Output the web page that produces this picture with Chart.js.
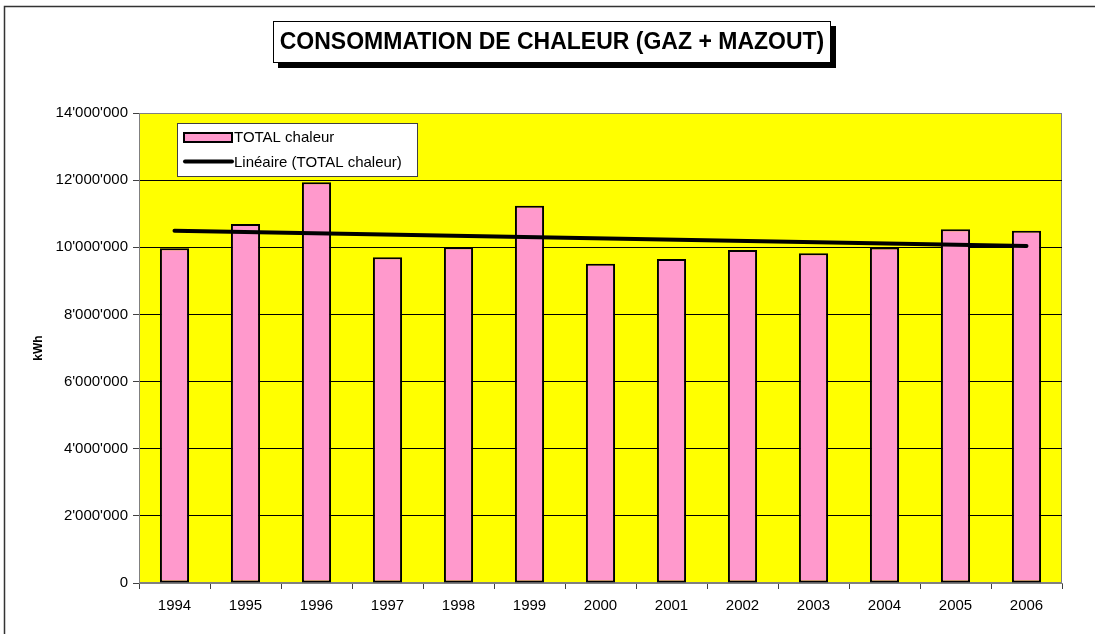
<!DOCTYPE html>
<html>
<head>
<meta charset="utf-8">
<title>Consommation de chaleur</title>
<script src="https://cdn.jsdelivr.net/npm/chart.js@4/dist/chart.umd.min.js"></script>
<style>
  html, body { margin: 0; padding: 0; background: #fff; }
</style>
</head>
<body>
<canvas id="heatChart" width="1095" height="634"></canvas>
<script>
// data
const chartTitle = 'CONSOMMATION DE CHALEUR (GAZ + MAZOUT)';
const years = ['1994', '1995', '1996', '1997', '1998', '1999', '2000', '2001', '2002', '2003', '2004', '2005', '2006'];
const totalChaleur = [9970000, 10690000, 11940000, 9700000, 10000000, 11240000, 9510000, 9650000, 9920000, 9820000, 9990000, 10540000, 10490000];
// Excel linear trend: only the two ends, the line spans the gaps
const trendChaleur = [10490000, null, null, null, null, null, null, null, null, null, null, null, 10040000];
const yTickLabels = ["0", "2'000'000", "4'000'000", "6'000'000", "8'000'000", "10'000'000", "12'000'000", "14'000'000"];

const FONT = '"Liberation Sans", Arial, sans-serif';
Chart.defaults.font.family = FONT;
Chart.defaults.color = '#000';

// yellow plot area + outer frame
const backdrop = {
  id: 'backdrop',
  beforeDraw(chart) {
    const { ctx, chartArea: a } = chart;
    ctx.save();
    ctx.strokeStyle = '#333';
    ctx.lineWidth = 1.5;
    ctx.beginPath();
    ctx.moveTo(4.5, chart.height);
    ctx.lineTo(4.5, 6.5);
    ctx.lineTo(chart.width, 6.5);
    ctx.stroke();
    ctx.fillStyle = '#FFFF00';
    ctx.fillRect(a.left, a.top, a.right - a.left, a.bottom - a.top);
    ctx.strokeStyle = '#808080';
    ctx.lineWidth = 1;
    ctx.strokeRect(a.left + 0.5, a.top + 0.5, a.right - a.left - 1, a.bottom - a.top - 1);
    ctx.restore();
  }
};

// boxed title with drop shadow
const titleBox = {
  id: 'titleBox',
  afterDraw(chart) {
    const ctx = chart.ctx;
    const x = 273, y = 21, w = 558, h = 42;
    ctx.save();
    ctx.fillStyle = '#000';
    ctx.fillRect(x + 5, y + 5, w, h);
    ctx.fillStyle = '#fff';
    ctx.fillRect(x, y, w, h);
    ctx.strokeStyle = '#000';
    ctx.lineWidth = 1;
    ctx.strokeRect(x + 0.5, y + 0.5, w - 1, h - 1);
    ctx.font = 'bold 23px ' + FONT;
    ctx.fillStyle = '#000';
    ctx.textAlign = 'center';
    ctx.textBaseline = 'middle';
    ctx.fillText(chartTitle, x + w / 2, y + h / 2 + 1);
    ctx.restore();
  }
};

// Excel style legend box sitting inside the plot
const boxLegend = {
  id: 'boxLegend',
  afterDraw(chart) {
    const { ctx, chartArea: a } = chart;
    const ds = chart.data.datasets;
    const lx = a.left + 38, ly = a.top + 10, lw = 241, lh = 54;
    ctx.save();
    ctx.fillStyle = '#fff';
    ctx.fillRect(lx, ly, lw, lh);
    ctx.strokeStyle = '#404040';
    ctx.lineWidth = 1;
    ctx.strokeRect(lx + 0.5, ly + 0.5, lw - 1, lh - 1);

    ctx.fillStyle = ds[0].backgroundColor;
    ctx.fillRect(lx + 7, ly + 10, 48, 9);
    ctx.strokeStyle = '#000';
    ctx.lineWidth = 2;
    ctx.strokeRect(lx + 7, ly + 10, 48, 9);

    ctx.lineWidth = 4;
    ctx.lineCap = 'round';
    ctx.beginPath();
    ctx.moveTo(lx + 8, ly + 38.5);
    ctx.lineTo(lx + 55, ly + 38.5);
    ctx.stroke();

    ctx.font = '15px ' + FONT;
    ctx.fillStyle = '#000';
    ctx.textBaseline = 'middle';
    ctx.fillText(ds[0].label, lx + 57, ly + 14.5);
    ctx.fillText(ds[1].label, lx + 57, ly + 40);
    ctx.restore();
  }
};

const ctx = document.getElementById('heatChart').getContext('2d');

new Chart(ctx, {
  data: {
    labels: years,
    datasets: [
      {
        type: 'bar',
        label: 'TOTAL chaleur',
        data: totalChaleur,
        backgroundColor: '#FF99CC',
        borderColor: '#000',
        borderWidth: 2,
        borderSkipped: false,
        categoryPercentage: 1,
        barPercentage: 0.41,
        order: 1
      },
      {
        type: 'line',
        label: 'Linéaire (TOTAL chaleur)',
        data: trendChaleur,
        spanGaps: true,
        borderColor: '#000',
        borderWidth: 4,
        borderCapStyle: 'round',
        pointRadius: 0,
        fill: false,
        order: 0
      }
    ]
  },
  options: {
    responsive: false,
    animation: false,
    layout: { padding: { left: 0, right: 33, top: 113, bottom: 0 } },
    scales: {
      x: {
        offset: true,
        grid: { offset: true, drawOnChartArea: false, drawTicks: true, tickLength: 6, tickColor: '#404040' },
        border: { color: '#808080' },
        ticks: { font: { size: 15 }, padding: 8, maxRotation: 0, autoSkip: false },
        afterFit(scale) { scale.height = 51; }
      },
      y: {
        min: 0,
        max: 14000000,
        grid: {
          color: c => (c.tick && (c.tick.value === 0 || c.tick.value === 14000000)) ? 'rgba(0,0,0,0)' : '#000',
          tickLength: 6,
          tickColor: '#404040'
        },
        border: { color: '#808080' },
        ticks: {
          stepSize: 2000000,
          font: { size: 15 },
          padding: 5,
          callback: (v, i) => yTickLabels[i]
        },
        title: { display: true, text: 'kWh', font: { size: 12, weight: 'bold' }, padding: { top: 31, bottom: 0 } },
        afterFit(scale) { scale.width = 139; }
      }
    },
    plugins: {
      legend: { display: false },
      title: { display: false },
      tooltip: { enabled: false }
    }
  },
  plugins: [backdrop, titleBox, boxLegend]
});
</script>
</body>
</html>
